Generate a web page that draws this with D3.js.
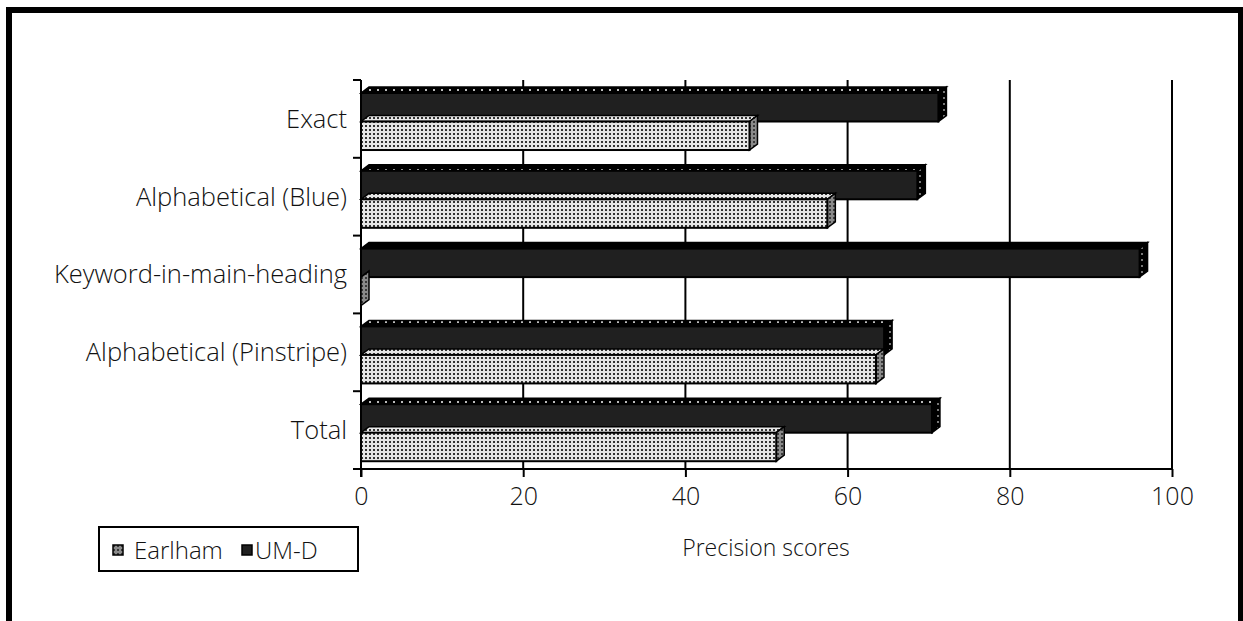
<!DOCTYPE html>
<html lang="en">
  <head>
    <meta charset="UTF-8" />
    <title>Precision scores</title>
    <script src="https://d3js.org/d3.v7.min.js"></script>
    <style>
      body { margin: 0; background: #fff; }
      text { font-family: "Open Sans", sans-serif; font-weight: 300; fill: #111; }
    </style>
  </head>
  <body>
    <svg id="chart" width="1243" height="621"></svg>
    <script>
      const categories = ["Exact", "Alphabetical (Blue)", "Keyword-in-main-heading", "Alphabetical (Pinstripe)", "Total"];
      const earlham = [47.9, 57.5, 0, 63.5, 51.2];
      const umd = [71.2, 68.6, 96.0, 64.5, 70.4];
      const xTicks = [0, 20, 40, 60, 80, 100];
      const seriesNames = ["UM-D", "Earlham"];

      const svg = d3.select("#chart");
      const defs = svg.append("defs");

      // dotted fills
      const dots = (id, bg, dot, size) => {
        const p = defs.append("pattern").attr("id", id).attr("patternUnits", "userSpaceOnUse")
          .attr("width", size).attr("height", size);
        p.append("rect").attr("width", size).attr("height", size).attr("fill", bg);
        p.append("rect").attr("x", 1).attr("y", 1).attr("width", 2).attr("height", 2).attr("fill", dot);
      };
      dots("earFront", "#e6e6e6", "#333", 4);
      dots("earSide", "#8a8a8a", "#3a3a3a", 4);
      dots("umdTop", "#000", "#bbb", 8);
      dots("umdSide", "#000", "#777", 6);

      // outer frame
      svg.append("rect").attr("x", 9).attr("y", 10).attr("width", 1232).attr("height", 700)
        .attr("fill", "none").attr("stroke", "#000").attr("stroke-width", 6);

      const x = d3.scaleLinear().domain([0, 100]).range([361, 1172]);
      const y = d3.scaleBand().domain(categories).range([80, 469]);
      const yi = d3.scaleBand().domain(seriesNames).range([y.bandwidth() * 0.167, y.bandwidth() * 0.9]);
      const dx = 8, dy = 6;

      // gridlines
      svg.append("g").selectAll("line").data(xTicks.slice(1)).join("line")
        .attr("x1", d => x(d)).attr("x2", d => x(d)).attr("y1", 80).attr("y2", 469)
        .attr("stroke", "#000").attr("stroke-width", 2);

      // x axis
      const xAxis = svg.append("g").attr("transform", "translate(0,469)")
        .call(d3.axisBottom(x).tickValues(xTicks).tickSize(8).tickPadding(10));
      xAxis.select(".domain").attr("stroke-width", 2).attr("d", `M${x(0) - 8},0H${x(100)}`);
      xAxis.selectAll(".tick line").attr("stroke-width", 2);
      xAxis.selectAll("text").attr("font-size", 25).attr("font-family", "Open Sans")
        .attr("font-weight", 300).attr("fill", "#111");

      // category axis
      const bounds = categories.map(c => y(c)).concat([y.range()[1]]);
      svg.append("line").attr("x1", x(0)).attr("x2", x(0)).attr("y1", 80).attr("y2", 477)
        .attr("stroke", "#000").attr("stroke-width", 2);
      svg.append("g").selectAll("line").data(bounds).join("line")
        .attr("x1", x(0) - 8).attr("x2", x(0)).attr("y1", d => d).attr("y2", d => d)
        .attr("stroke", "#000").attr("stroke-width", 2);
      svg.append("g").selectAll("text").data(categories).join("text")
        .attr("x", 347).attr("y", d => y(d) + y.bandwidth() / 2 + 2)
        .attr("text-anchor", "end").attr("dominant-baseline", "middle").attr("font-size", 25.5)
        .text(d => d);

      // bars
      const rows = [];
      categories.forEach((c, i) => {
        rows.push({ cat: c, s: "UM-D", v: umd[i] });
        rows.push({ cat: c, s: "Earlham", v: earlham[i] });
      });
      const bars = svg.append("g").selectAll("g").data(rows).join("g");
      bars.each(function (d) {
        const g = d3.select(this);
        const x0 = x(0), x1 = x(d.v);
        const y0 = y(d.cat) + yi(d.s), h = yi.bandwidth();
        const ear = d.s === "Earlham";
        g.append("path")
          .attr("d", `M${x0},${y0}L${x0 + dx},${y0 - dy}L${x1 + dx},${y0 - dy}L${x1},${y0}Z`)
          .attr("fill", ear ? "url(#earFront)" : "url(#umdTop)").attr("stroke", "#000").attr("stroke-width", 1.5);
        g.append("path")
          .attr("d", `M${x1},${y0}L${x1 + dx},${y0 - dy}L${x1 + dx},${y0 + h - dy}L${x1},${y0 + h}Z`)
          .attr("fill", ear ? "url(#earSide)" : "url(#umdSide)").attr("stroke", "#000").attr("stroke-width", 1.5);
        if (x1 > x0) {
          g.append("rect").attr("x", x0).attr("y", y0).attr("width", x1 - x0).attr("height", h)
            .attr("fill", ear ? "url(#earFront)" : "#202020").attr("stroke", "#000").attr("stroke-width", 2);
        }
      });

      // axis title
      svg.append("text").attr("x", 766).attr("y", 556).attr("text-anchor", "middle")
        .attr("font-size", 23).text("Precision scores");

      // legend
      const lg = svg.append("g");
      lg.append("rect").attr("x", 99).attr("y", 527).attr("width", 259).attr("height", 44)
        .attr("fill", "#fff").attr("stroke", "#000").attr("stroke-width", 2);
      const legendItems = [
        { name: "Earlham", fill: "url(#earSide)", sx: 113, tx: 134 },
        { name: "UM-D", fill: "#202020", sx: 242, tx: 255 }
      ];
      legendItems.forEach(it => {
        lg.append("rect").attr("x", it.sx).attr("y", 545).attr("width", 10).attr("height", 10)
          .attr("fill", it.fill).attr("stroke", "#000").attr("stroke-width", 1.5);
        lg.append("text").attr("x", it.tx).attr("y", 559).attr("font-size", 24).text(it.name);
      });
    </script>
  </body>
</html>
